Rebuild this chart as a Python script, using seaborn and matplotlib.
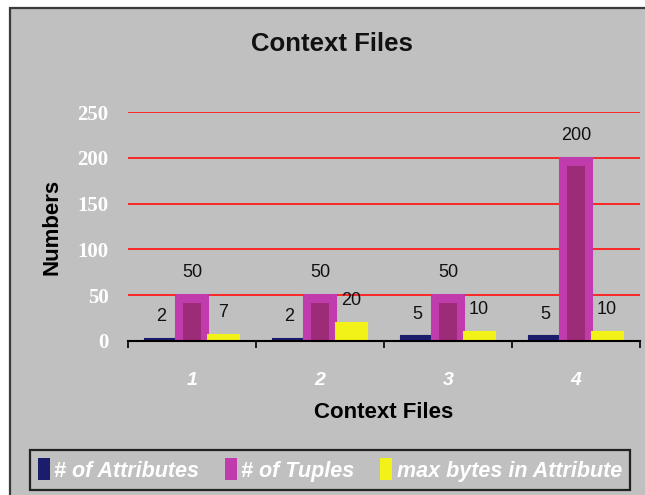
import matplotlib
matplotlib.use("Agg")
import matplotlib.pyplot as plt
from matplotlib.patches import Rectangle, Patch
import seaborn as sns
import pandas as pd

categories = ["1", "2", "3", "4"]
attributes = [2, 2, 5, 5]
tuples = [50, 50, 50, 200]
max_bytes = [7, 20, 10, 10]
series_names = ["# of Attributes", "# of Tuples", "max bytes in Attribute"]
y_ticks = [0, 50, 100, 150, 200, 250]

df = pd.DataFrame({
    "file": categories * 3,
    "series": [series_names[0]] * 4 + [series_names[1]] * 4 + [series_names[2]] * 4,
    "value": attributes + tuples + max_bytes,
})

sns.set_theme(style="white")
plt.rcParams["font.family"] = ["Liberation Sans", "DejaVu Sans"]

W, H = 645, 495
fig = plt.figure(figsize=(W / 100, H / 100), dpi=100)
fig.patch.set_facecolor("white")

# outer chart frame
fig.patches.append(Rectangle((10 / W, -0.05), 1.0, (H - 8) / H + 0.05,
                             transform=fig.transFigure, facecolor="#c0c0c0",
                             edgecolor="#3a3a3a", linewidth=1.6, zorder=-5))

ax = fig.add_axes([128 / W, 1 - 341 / H, (640 - 128) / W, (341 - 112) / H])
ax.set_facecolor("none")
ax.set_zorder(2)

colors = ["#1c1c6c", "#c03cac", "#f2f218"]
sns.barplot(data=df, x="file", y="value", hue="series", order=categories,
            hue_order=series_names, palette=colors, width=0.73,
            saturation=1, ax=ax, legend=False, zorder=3)

ax.set_ylim(0, 250)
ax.set_xlim(-0.5, 3.5)

# bar edges in own colour (slight 3D thickness like the original)
edge_cols = ["#1c1c6c", "#c03cac", "#f2f218"]
for cont, ec in zip(ax.containers, edge_cols):
    for p in cont:
        p.set_edgecolor(ec)
        p.set_linewidth(1.5)

# purple bars: lighter outer with darker inner core
inner_off = 9
for p in ax.containers[1]:
    x, w, h = p.get_x(), p.get_width(), p.get_height()
    ax.add_patch(Rectangle((x + w * 0.2, 0), w * 0.6, max(h - inner_off, 0),
                           facecolor="#9c2c78", edgecolor="none", zorder=4))

for c in ax.containers:
    ax.bar_label(c, padding=10, fontsize=13, color="#111111", zorder=6)

# gridlines
ax.set_yticks(y_ticks)
ax.yaxis.grid(True, color="#ff1a1a", linewidth=1.3)
ax.set_axisbelow(True)
ax.tick_params(axis="y", length=0, pad=14, labelsize=15, labelcolor="white")
for lab in ax.get_yticklabels():
    lab.set_fontweight("bold")
    lab.set_family(["Liberation Serif", "DejaVu Serif"])

# x ticks: boundaries as major ticks, labels at centers
ax.set_xticks([-0.5, 0.5, 1.5, 2.5, 3.5])
ax.set_xticklabels([])
ax.set_xticks(range(len(categories)), minor=True)
ax.set_xticklabels(categories, minor=True)
ax.tick_params(axis="x", which="major", length=5, width=1.2, color="black",
               direction="out", bottom=True)
ax.tick_params(axis="x", which="minor", length=0, pad=22, labelsize=14,
               labelcolor="white")
for lab in ax.get_xticklabels(minor=True):
    lab.set_fontweight("bold")
    lab.set_fontstyle("italic")

for s in ["top", "right", "left"]:
    ax.spines[s].set_visible(False)
ax.spines["bottom"].set_color("black")
ax.spines["bottom"].set_linewidth(1.5)
ax.spines["bottom"].set_zorder(5)

ax.set_xlabel("Context Files", fontsize=16, fontweight="bold", color="black")
ax.set_ylabel("Numbers", fontsize=16, fontweight="bold", color="black")
ax.xaxis.set_label_coords(0.5, -0.265)
ax.yaxis.set_label_coords(-0.127, 0.5)

fig.text(332 / W, 1 - 44 / H, "Context Files", ha="center", va="center",
         fontsize=18.5, fontweight="bold", color="#111111")

# legend
handles = [Patch(facecolor=c, edgecolor="none") for c in colors]
leg = fig.legend(handles, series_names, loc="center",
                 bbox_to_anchor=(330 / W, 1 - 470 / H),
                 bbox_transform=fig.transFigure, ncol=3,
                 frameon=True, fancybox=False, edgecolor="#222222",
                 facecolor="#c0c0c0", framealpha=1, handlelength=0.55,
                 handleheight=1.2, handletextpad=0.2, columnspacing=1.2,
                 borderaxespad=0, borderpad=0.4,
                 prop={"size": 15.5, "weight": "bold", "style": "italic"})
leg.get_frame().set_linewidth(1.6)
for t in leg.get_texts():
    t.set_color("white")

fig.savefig("out.png", dpi=100)
